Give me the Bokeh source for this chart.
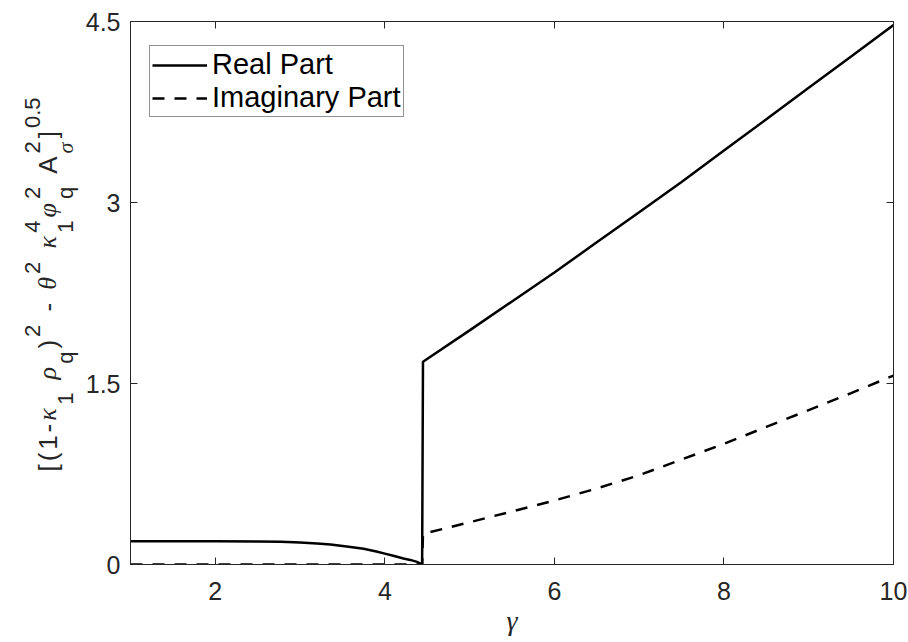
import math
from bokeh.plotting import figure
from bokeh.models import Range1d, FixedTicker, LinearAxis, Label, Legend, LegendItem
from bokeh.layouts import row, column
from bokeh.embed import file_html
from bokeh.resources import INLINE

# ---------------- data ----------------
real_x = [1.0, 1.5, 2.0, 2.5, 2.77, 3.0, 3.2, 3.36, 3.55, 3.75, 3.9, 4.0, 4.1, 4.22, 4.3, 4.38, 4.44,
          4.45, 5.0, 5.5, 6.0, 6.5, 7.0, 7.5, 8.0, 8.5, 9.0, 9.5, 10.0]
real_y = [0.193, 0.193, 0.192, 0.190, 0.188, 0.182, 0.175, 0.166, 0.150, 0.130, 0.108, 0.090, 0.072,
          0.050, 0.038, 0.022, 0.0,
          1.68, 1.94, 2.18, 2.42, 2.67, 2.92, 3.17, 3.43, 3.69, 3.95, 4.21, 4.47]
imag_x = [1.0, 4.44, 4.45, 5.0, 5.5, 6.0, 6.5, 7.0, 7.5, 8.0, 8.5, 9.0, 9.5, 10.0]
imag_y = [0.0, 0.0, 0.254, 0.35, 0.44, 0.53, 0.63, 0.74, 0.87, 1.00, 1.14, 1.28, 1.42, 1.566]
series_names = ["Real Part", "Imaginary Part"]
x_ticks = [2, 4, 6, 8, 10]
x_tick_labels = ["2", "4", "6", "8", "10"]
y_ticks = [0, 1.5, 3, 4.5]
y_tick_labels = ["0", "1.5", "3", "4.5"]
x_label = "γ"

# ---------------- layout ----------------
TOTAL_W, TOTAL_H = 908, 636
GH = 26                      # height of the strip holding the x label
LW = 80                      # width of the strip holding the y label
W, H = TOTAL_W - LW, TOTAL_H - GH
FRAME_L, FRAME_R, FRAME_T, FRAME_B = 130, 893, 21, 564
ML = FRAME_L - LW
MR = TOTAL_W - FRAME_R
MT = FRAME_T
MB = H - FRAME_B
INK = "#262626"
SANS = "Liberation Sans"
SERIF = "Liberation Serif"

p = figure(width=W, height=H, output_backend="svg", toolbar_location=None,
           x_range=Range1d(1, 10), y_range=Range1d(0, 4.5),
           min_border_left=ML, min_border_right=MR, min_border_top=MT, min_border_bottom=MB)
p.grid.visible = False
p.outline_line_color = INK
p.background_fill_color = "white"
p.border_fill_color = "white"

bottom_ax = p.below[0]
left_ax = p.left[0]
right_ax = LinearAxis()
top_ax = LinearAxis()
p.add_layout(right_ax, "right")
p.add_layout(top_ax, "above")

for ax in [bottom_ax, left_ax, right_ax, top_ax]:
    ax.axis_line_color = INK
    ax.axis_line_width = 1
    ax.major_tick_line_color = INK
    ax.major_tick_in = 7
    ax.major_tick_out = 0
    ax.minor_tick_line_color = None
    ax.minor_tick_in = 0
    ax.minor_tick_out = 0
    ax.major_label_text_color = INK
    ax.major_label_text_font = SANS
    ax.major_label_text_font_size = "25px"

bottom_ax.ticker = FixedTicker(ticks=x_ticks)
top_ax.ticker = FixedTicker(ticks=x_ticks)
left_ax.ticker = FixedTicker(ticks=y_ticks)
right_ax.ticker = FixedTicker(ticks=y_ticks)
bottom_ax.major_label_overrides = {t: s for t, s in zip(x_ticks, x_tick_labels)}
left_ax.major_label_overrides = {t: s for t, s in zip(y_ticks, y_tick_labels)}
bottom_ax.major_label_standoff = 17
left_ax.major_label_standoff = 10
for ax in [right_ax, top_ax]:
    ax.major_label_text_color = None
    ax.major_label_text_font_size = "2px"
    ax.major_label_standoff = 0

# ---------------- lines ----------------
r_imag = p.line(imag_x, imag_y, line_color="black", line_width=2.5, line_dash="12 10")
r_real = p.line(real_x, real_y, line_color="black", line_width=2.5)

legend = Legend(items=[LegendItem(label=series_names[0], renderers=[r_real]),
                       LegendItem(label=series_names[1], renderers=[r_imag])],
                location=(19, 447))
legend.border_line_color = INK
legend.border_line_width = 1
legend.background_fill_alpha = 1
legend.label_text_font = SANS
legend.label_text_font_size = "29px"
legend.label_text_color = "black"
legend.glyph_width = 55
legend.glyph_height = 28
legend.label_height = 28
legend.label_standoff = 5
legend.spacing = 0
legend.padding = 2
legend.margin = 0
p.add_layout(legend)

# ---------------- x label strip ----------------
gfig = figure(width=TOTAL_W, height=GH, output_backend="svg", toolbar_location=None,
              x_range=Range1d(0, 1), y_range=Range1d(0, 1),
              x_axis_type=None, y_axis_type=None,
              min_border=0, min_border_left=FRAME_L, min_border_right=MR,
              min_border_top=0, min_border_bottom=0)
gfig.grid.visible = False
gfig.outline_line_color = None
gfig.background_fill_color = "white"
gfig.border_fill_color = "white"
gfig.add_layout(Label(x=(FRAME_R - FRAME_L) / 2, y=16, x_units="screen", y_units="screen",
                      text=x_label, text_font=SERIF, text_font_style="italic",
                      text_font_size="28px", text_color=INK,
                      text_align="center", text_baseline="alphabetic"))

# ---------------- y label strip (TeX-like, built from pieces) ----------------
lab = figure(width=LW, height=H, output_backend="svg", toolbar_location=None,
             x_range=Range1d(0, 1), y_range=Range1d(0, 1),
             x_axis_type=None, y_axis_type=None,
             min_border=0, min_border_left=0, min_border_right=0,
             min_border_top=MT, min_border_bottom=MB)
lab.grid.visible = False
lab.outline_line_color = None
lab.background_fill_color = "white"
lab.border_fill_color = "white"

fL = 26.0
fS = 22.0
wid = {"[": .278, "(": .333, "1": .556, "-": .333, " ": .278, ")": .333, "2": .556,
       "4": .556, "q": .556, "A": .667, "]": .278, "0": .556, ".": .278, "5": .556,
       "κ": .50, "ρ": .50, "θ": .50, "φ": .60, "σ": .55}
greek = set("κρθφσ")

def adv(s, size):
    return sum(wid.get(c, .55) for c in s) * size

# units: (text, role)  m main, u sup, d sub, s stacked (sup, sub), g gap (space)
units = [("[", "m"), ("(", "m"), ("1", "m"), ("-", "m"), ("κ", "m"), ("1", "d"), (" ", "g"),
         ("ρ", "m"), ("q", "d"), (")", "m"), ("2", "u"), (" ", "g"), ("-", "m"), (" ", "g"),
         ("θ", "m"), ("2", "u"), (" ", "g"), ("κ", "m"), (("4", "1"), "s"), ("φ", "m"),
         (("2", "q"), "s"), (" ", "g"), ("A", "m"), (("2", "σ"), "s"), ("]", "m"), ("0.5", "u")]

def unit_len(t, r):
    if r in ("m", "g"):
        return adv(t, fL)
    if r == "s":
        return max(adv(t[0], fS), adv(t[1], fS))
    return adv(t, fS)

LABEL_CENTER = 284     # page y of the label's middle
LABEL_LEN = 374        # length of the whole label along the axis
natural = sum(unit_len(t, r) for t, r in units)
gap = (LABEL_LEN - natural) / (len(units) - 1)
xb = 47.0              # baseline (page x)
sup_shift = -15.0
sub_shift = 18.0
cur = (FRAME_B - LABEL_CENTER) - LABEL_LEN / 2    # screen y measured up from frame bottom

def put(txt, xs, ys, size):
    font = SERIF if any(c in greek for c in txt) else SANS
    style = "italic" if font == SERIF else "normal"
    lab.add_layout(Label(x=xs, y=ys, x_units="screen", y_units="screen", text=txt,
                         angle=math.pi / 2, text_font=font, text_font_style=style,
                         text_font_size=f"{size:.1f}px", text_color=INK,
                         text_align="left", text_baseline="alphabetic"))

for t, r in units:
    if r == "m":
        put(t, xb, cur, fL)
    elif r == "u":
        put(t, xb + sup_shift, cur, fS)
    elif r == "d":
        put(t, xb + sub_shift, cur, fS)
    elif r == "s":
        put(t[0], xb + sup_shift, cur, fS)
        put(t[1], xb + sub_shift, cur, fS)
    cur += unit_len(t, r) + gap

layout = column(row(lab, p, spacing=0), gfig, spacing=0)
open("out.html", "w").write(file_html(layout, INLINE))
